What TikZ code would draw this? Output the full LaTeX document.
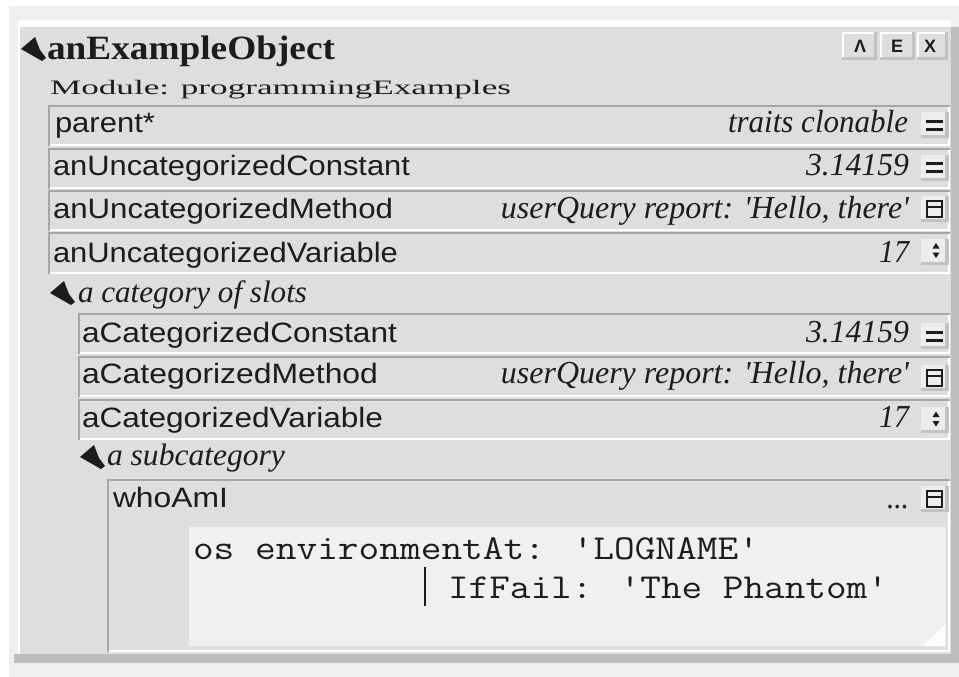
\documentclass[tikz,border=0pt]{standalone}
\usepackage{fontspec}
\usepackage{graphicx}
\setmainfont{Liberation Serif}
\setsansfont{Liberation Sans}

\definecolor{outerbg}{HTML}{EFEFEF}
\definecolor{panelc}{HTML}{DEDEDE}
\definecolor{shadowc}{HTML}{BDBDBD}
\definecolor{groove}{HTML}{A6A6A6}
\definecolor{ink}{HTML}{1C1C1C}
\definecolor{codebg}{HTML}{F0F0F0}
\definecolor{btnface}{HTML}{EDEDED}
\definecolor{btnshade}{HTML}{C2C2C2}

% stretch a text horizontally to a given width, keeping its height
\newcommand\fitw[2]{\resizebox{#1}{\height}{#2}}
\newcommand\sq{\textquotesingle}

% recessed slot frame: left x, top y, bottom y
\newcommand\slotframe[3]{%
  \fill[panelc] (#1,#2) rectangle (950,#3);
  \draw[groove,line width=2pt] ({#1+1},#3) -- ({#1+1},{#2+1}) -- (950,{#2+1});
  \draw[white,line width=2pt] ({#1+2},{#3-1}) -- (949,{#3-1}) -- (949,{#2+2});
}
% small button at the right end of a slot row (centre y)
\newcommand\rowbtn[1]{%
  \fill[btnface] (921,{#1-13}) rectangle (949,{#1+13});
  \fill[btnshade] (945,{#1-13}) rectangle (949,{#1+13});
  \fill[btnshade] (921,{#1+10}) rectangle (949,{#1+13});
}
\newcommand\iconeq[1]{%
  \fill[ink] (926,{#1-5.5}) rectangle (943,{#1-2.5});
  \fill[ink] (926,{#1+2.5}) rectangle (943,{#1+5.5});
}
\newcommand\iconmeth[1]{%
  \draw[ink,line width=2pt] (927,{#1-8}) rectangle (942,{#1+8});
  \draw[ink,line width=2pt] (927,{#1-2}) -- (942,{#1-2});
}
\newcommand\iconvar[1]{%
  \fill[ink] (932.5,{#1-3}) -- (936,{#1-8.5}) -- (939.5,{#1-3}) -- cycle;
  \fill[ink] (932.5,{#1+1}) -- (936,{#1+6.5}) -- (939.5,{#1+1}) -- cycle;
}
% header button: x1, y1, x2, y2
\newcommand\hdrbtn[4]{%
  \fill[panelc] (#1,#2) rectangle (#3,#4);
  \fill[btnshade] ({#3-3},#2) rectangle (#3,#4);
  \fill[btnshade] (#1,{#4-3}) rectangle (#3,#4);
  \fill[white] (#1,#2) rectangle ({#3-3},{#2+2});
  \fill[white] (#1,#2) rectangle ({#1+2},{#4-3});
}

\tikzset{
  collapse/.pic={\fill[ink] (0,12) -- (14,0) -- (19,13) -- (25,21) -- (21,24) -- cycle;},
  txt/.style={inner sep=0pt, outer sep=0pt, text=ink},
  namefont/.style={txt, anchor=base west, font=\sffamily\fontsize{28}{30}\selectfont},
  valfont/.style={txt, anchor=base east, font=\itshape\fontsize{32}{34}\selectfont},
  labfont/.style={txt, anchor=base west, font=\itshape\fontsize{31}{33}\selectfont},
  codefont/.style={txt, anchor=base west, font=\ttfamily\fontsize{35}{37}\selectfont},
  hdrfont/.style={txt, anchor=base, font=\sffamily\bfseries\fontsize{18}{20}\selectfont},
}

\begin{document}
\begin{tikzpicture}[x=1pt,y=-1pt]
\useasboundingbox (0,0) rectangle (959,677);
\fill[white] (0,0) rectangle (959,677);
\fill[outerbg] (9,6) rectangle (959,677);

% outliner panel with its raised edges
\fill[shadowc] (14,654) rectangle (959,663);
\fill[shadowc] (951,27) rectangle (959,663);
\fill[white] (18,20) rectangle (951,27);
\fill[white] (18,20) rectangle (20,654);
\fill[panelc] (20,27) rectangle (951,654);

% header
\pic at (21,37) {collapse};
\node[txt, anchor=base west, font=\bfseries\fontsize{34}{36}\selectfont] (title) at (47,60) {\fitw{288pt}{anExampleObject}};
\node[txt, anchor=base west, font=\fontsize{20.5}{22}\selectfont] (module) at (50,95) {\fitw{461pt}{Module: programmingExamples}};

\hdrbtn{842}{32}{877}{60}
\hdrbtn{880}{32}{915}{60}
\hdrbtn{917}{32}{948}{60}
\node[hdrfont] (btnA) at (860,53) {Λ};
\node[hdrfont] (btnE) at (897,53) {E};
\node[hdrfont] (btnX) at (930,53) {X};

% uncategorized slots
\slotframe{48}{105}{146}
\slotframe{48}{148}{189}
\slotframe{48}{190}{231}
\slotframe{48}{232}{274}
\node[namefont] (sParent) at (55,132) {\fitw{100pt}{parent*}};
\node[namefont] (sUConst) at (53,175) {\fitw{357pt}{anUncategorizedConstant}};
\node[namefont] (sUMeth) at (53,218) {\fitw{340pt}{anUncategorizedMethod}};
\node[namefont] (sUVar) at (53,262) {\fitw{345pt}{anUncategorizedVariable}};
\node[valfont] (vParent) at (908,132) {\fitw{180pt}{traits clonable}};
\node[valfont] (vUConst) at (909,175) {\fitw{103pt}{3.14159}};
\node[valfont] (vUMeth) at (909,218) {\fitw{408pt}{userQuery report: \sq Hello, there\sq}};
\node[valfont] (vUVar) at (909,262) {\fitw{30pt}{17}};
\rowbtn{125}   \iconeq{125}
\rowbtn{167.5} \iconeq{167.5}
\rowbtn{209}   \iconmeth{209}
\rowbtn{251.5} \iconvar{251.5}

% a category of slots
\pic at (50,281) {collapse};
\node[labfont] (cat) at (78,302) {\fitw{229pt}{a category of slots}};
\slotframe{78}{313}{354}
\slotframe{78}{356}{397}
\slotframe{78}{399}{440}
\node[namefont] (sCConst) at (82,342) {\fitw{315pt}{aCategorizedConstant}};
\node[namefont] (sCMeth) at (82,383) {\fitw{296pt}{aCategorizedMethod}};
\node[namefont] (sCVar) at (82,427) {\fitw{301pt}{aCategorizedVariable}};
\node[valfont] (vCConst) at (909,342) {\fitw{103pt}{3.14159}};
\node[valfont] (vCMeth) at (909,383) {\fitw{408pt}{userQuery report: \sq Hello, there\sq}};
\node[valfont] (vCVar) at (909,427) {\fitw{30pt}{17}};
\rowbtn{336}   \iconeq{336}
\rowbtn{377.5} \iconmeth{377.5}
\rowbtn{420}   \iconvar{420}

% a subcategory with an expanded method slot
\pic at (80,445) {collapse};
\node[labfont] (subcat) at (107,465) {\fitw{178pt}{a subcategory}};
\slotframe{107}{479}{652}
\node[namefont] (sWho) at (113,507) {\fitw{115pt}{whoAmI}};
\node[valfont] (vWho) at (909,508) {\fitw{22pt}{...}};
\rowbtn{498.5} \iconmeth{498.5}

% method source editor
\fill[codebg] (189,527) rectangle (946,646);
\fill[white] (945,625) -- (945,646) -- (923,646) -- cycle;
\node[codefont] (code1) at (193,559) {\fitw{566pt}{os environmentAt: 'LOGNAME'}};
\node[codefont] (code2) at (448,598) {\fitw{440pt}{IfFail: 'The Phantom'}};
\coordinate (caretTop) at (425,567);
\coordinate (caretBot) at (425,606);
\draw[ink,line width=2pt] (caretTop) -- (caretBot);
\end{tikzpicture}
\end{document}
